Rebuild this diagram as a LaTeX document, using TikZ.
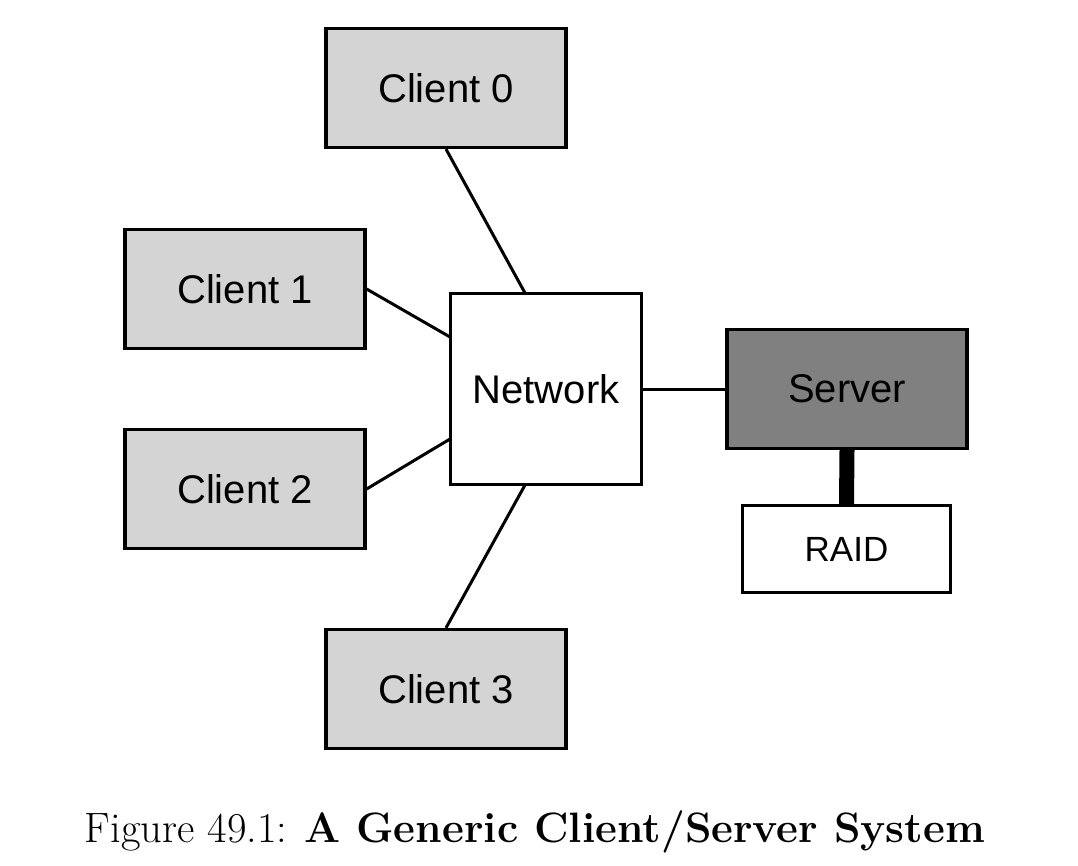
\documentclass[tikz,border=0pt]{standalone}
\usepackage{fontspec}
\newfontfamily\boxfont{Liberation Sans}
\begin{document}
\begin{tikzpicture}[x=1pt,y=-1pt,
  box/.style={draw=black,line width=3.2pt,minimum width=240pt,minimum height=119pt,inner sep=0pt,font=\boxfont\fontsize{40}{44}\selectfont},
  client/.style={box,fill=black!17},
  link/.style={line width=3pt}]
\useasboundingbox (0,0) rectangle (1078,866);
\node[client] (c0) at (446,88) {Client 0};
\node[client] (c1) at (245,289) {Client 1};
\node[client] (c2) at (245,489) {Client 2};
\node[client] (c3) at (446,689) {Client 3};
\node[box,fill=white,minimum width=191pt,minimum height=191pt] (net) at (546,389) {Network};
\node[box,fill=black!50] (srv) at (847,389) {Server};
\node[box,fill=white,minimum width=208pt,minimum height=87pt,font=\boxfont\fontsize{35}{40}\selectfont] (raid) at (846.5,549) {RAID};
\coordinate (n0) at (525,293);
\coordinate (n1) at (450,337);
\coordinate (n2) at (450,439);
\coordinate (n3) at (525,485);
\draw[link] (c0.south) -- (n0);
\draw[link] (c1.east) -- (n1);
\draw[link] (c2.east) -- (n2);
\draw[link] (c3.north) -- (n3);
\draw[link] (net.east) -- (srv.west);
\draw[line width=15pt] (srv.south) -- (raid.north);
\node[font=\fontsize{42.5}{48}\selectfont] (cap) at (535,832) {Figure 49.1: \textbf{A Generic Client/Server System}};
\end{tikzpicture}
\end{document}
